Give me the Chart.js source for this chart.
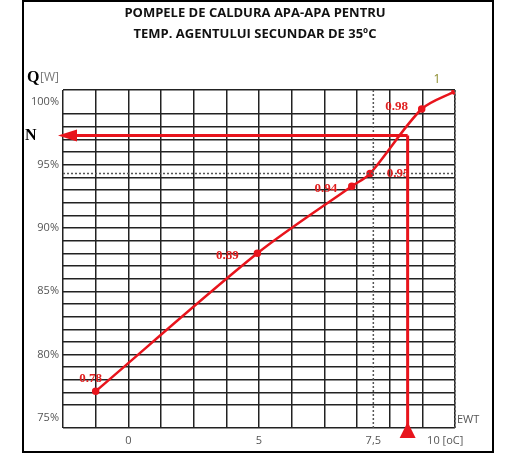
<!DOCTYPE html>
<html>
<head>
<meta charset="utf-8">
<script src="https://cdn.jsdelivr.net/npm/chart.js@4.4.0/dist/chart.umd.min.js"></script>
<style>
  body { margin: 0; background: #fff; }
  #wrap { width: 519px; height: 471px; position: relative; }
</style>
</head>
<body>
<div id="wrap"><canvas id="c" width="519" height="471"></canvas></div>
<script>
// column units: 0..12 across the grid
const colPos = [1, 5.95, 8.84, 9.4, 10.98, 12];
const ratios = [77.1, 88.0, 93.3, 94.3, 99.4, 100.8];
const pointLabels = ["0.78", "0.89", "0.94", "0.95", "0.98", "1"];
const xTickPos = [2, 6, 9.5, 11.7];
const xTickLabels = ["0", "5", "7,5", "10 [oC]"];
const yTickValues = [75, 80, 85, 90, 95, 100];
const nLevel = 97.3;
const nColumn = 10.55;
const dottedLevel = 94.3;

const labelOffsets = [[-5, -13], [-30, 2], [-26, 2], [28, 0], [-25, -2], [-18, -12]];

const overlay = {
  id: "overlay",
  afterDatasetsDraw(chart) {
    const { ctx, chartArea: a, scales: { x, y } } = chart;
    ctx.save();
    // dotted lines
    ctx.strokeStyle = "#555"; ctx.lineWidth = 1.5; ctx.setLineDash([2, 2]);
    ctx.beginPath();
    ctx.moveTo(a.left, y.getPixelForValue(dottedLevel)); ctx.lineTo(a.right, y.getPixelForValue(dottedLevel));
    ctx.moveTo(x.getPixelForValue(9.5), a.top); ctx.lineTo(x.getPixelForValue(9.5), a.bottom);
    ctx.moveTo(a.right, a.top); ctx.lineTo(a.right, a.bottom);
    ctx.stroke();
    ctx.setLineDash([]);
    // red arrows
    const ny = y.getPixelForValue(nLevel), nx = x.getPixelForValue(nColumn);
    ctx.strokeStyle = "#e8141c"; ctx.fillStyle = "#e8141c"; ctx.lineWidth = 3;
    ctx.beginPath();
    ctx.moveTo(nx, ny); ctx.lineTo(a.left + 8, ny);
    ctx.moveTo(nx, ny); ctx.lineTo(nx, a.bottom + 2);
    ctx.stroke();
    ctx.beginPath();
    ctx.moveTo(a.left - 5, ny); ctx.lineTo(a.left + 14, ny - 6); ctx.lineTo(a.left + 14, ny + 6); ctx.closePath(); ctx.fill();
    ctx.beginPath();
    ctx.moveTo(nx, a.bottom - 6); ctx.lineTo(nx - 8, a.bottom + 10); ctx.lineTo(nx + 8, a.bottom + 10); ctx.closePath(); ctx.fill();
    // point labels
    const meta = chart.getDatasetMeta(0);
    ctx.textAlign = "center"; ctx.textBaseline = "middle";
    meta.data.forEach((p, i) => {
      const last = i === pointLabels.length - 1;
      ctx.fillStyle = last ? "#8a8a2a" : "#e02020";
      ctx.font = last ? "12px 'Open Sans', sans-serif" : "bold 13px 'Liberation Serif', serif";
      ctx.fillText(pointLabels[i], p.x + labelOffsets[i][0], p.y + labelOffsets[i][1]);
    });
    // axis labels
    ctx.fillStyle = "#555"; ctx.font = "11px 'Open Sans', sans-serif";
    ctx.textAlign = "right";
    yTickValues.forEach(v => ctx.fillText(v + "%", a.left - 4, y.getPixelForValue(v)));
    ctx.textAlign = "center";
    xTickPos.forEach((v, i) => ctx.fillText(xTickLabels[i], x.getPixelForValue(v), a.bottom + 13));
    ctx.textAlign = "left";
    ctx.fillText("EWT", a.right + 2, a.bottom - 8);
    ctx.fillStyle = "#000"; ctx.font = "bold 16px 'Liberation Serif', serif";
    ctx.fillText("Q", a.left - 36, a.top - 12);
    ctx.fillText("N", a.left - 38, ny);
    ctx.fillStyle = "#777"; ctx.font = "12px 'Open Sans', sans-serif";
    ctx.fillText("[W]", a.left - 23, a.top - 12);
    // frame and title
    ctx.strokeStyle = "#000"; ctx.lineWidth = 2;
    ctx.strokeRect(23, 1, 470, 451);
    ctx.fillStyle = "#111"; ctx.font = "bold 13px 'Open Sans', sans-serif"; ctx.textAlign = "center";
    ctx.fillText("POMPELE DE CALDURA APA-APA PENTRU", 255, 13);
    ctx.fillText("TEMP. AGENTULUI SECUNDAR DE 35\u00BAC", 255, 34);
    ctx.restore();
  }
};

new Chart(document.getElementById("c"), {
  type: "scatter",
  data: {
    datasets: [{
      data: colPos.map((c, i) => ({ x: c, y: ratios[i] })),
      showLine: true,
      borderColor: "#e8141c",
      backgroundColor: "#e8141c",
      borderWidth: 2.5,
      pointRadius: 2.5,
      tension: 0.3
    }]
  },
  options: {
    responsive: false,
    animation: false,
    layout: { padding: { left: 63, right: 64, top: 90, bottom: 43 } },
    plugins: { legend: { display: false }, tooltip: { enabled: false } },
    scales: {
      x: {
        type: "linear", min: 0, max: 12,
        ticks: { stepSize: 1, display: false },
        grid: { color: "#222", lineWidth: 1.5, drawTicks: false },
        border: { display: false }
      },
      y: {
        type: "linear", min: 74.2, max: 100.9,
        ticks: { stepSize: 1, display: false },
        grid: { color: "#222", lineWidth: 1.5, drawTicks: false },
        border: { display: false }
      }
    }
  },
  plugins: [overlay]
});
</script>
</body>
</html>
